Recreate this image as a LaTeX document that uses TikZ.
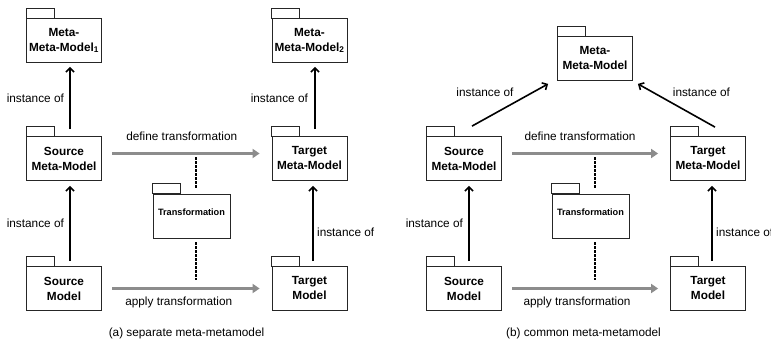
\documentclass[tikz,border=0pt]{standalone}
\usepackage{fontspec}
\setmainfont{Liberation Sans}
\usetikzlibrary{arrows.meta,calc}

\begin{document}
\begin{tikzpicture}[x=1pt,y=1pt,
                        package/.style={draw=black!85,line width=0.8pt,fill=white,align=center,inner sep=0pt,
                        minimum width=75pt,minimum height=44pt,font=\fontsize{11.8}{15}\selectfont\bfseries},
                        trafo/.style={draw=black!85,line width=0.8pt,fill=white,inner sep=0pt,minimum width=77pt,
                        text height=21.5pt,text depth=22.5pt,font=\fontsize{9.2}{11}\selectfont\bfseries},
                        tab/.style={draw=black!85,line width=0.8pt},
                        inst/.style={line width=1.6pt,-{Straight Barb[length=4pt,width=8pt]}},
                        trans/.style={line width=3pt,black!45,-{Triangle[length=7pt,width=9pt]},shorten <=10.5pt,shorten >=12pt},
                        link/.style={line width=1.6pt,dash pattern=on 2.5pt off 1.5pt},
                        lbl/.style={font=\fontsize{11.8}{14}\selectfont}
                        ]
                        \useasboundingbox (0,0) rectangle (771,345);

                        % (a) separate meta-metamodel
                        \node[package] (mmA)  at (64,304.5)    {Meta-\\Meta-Model\textsubscript{1}};
                        \node[package] (mmB)  at (309.5,304.5) {Meta-\\Meta-Model\textsubscript{2}};
                        \node[package] (smmA) at (64,186.5)    {Source\\Meta-Model};
                        \node[package] (tmmA) at (309.5,186.5) {Target\\Meta-Model};
                        \node[package] (smA)  at (64,56.5)     {Source\\Model};
                        \node[package] (tmA)  at (309.5,56.5)  {Target\\Model};
                        \node[trafo]   (trA)  at (191.5,129)   {Transformation};

                        % (b) common meta-metamodel
                        \node[package] (mmC)  at (595,286.5)   {Meta-\\Meta-Model};
                        \node[package] (smmB) at (464,186.5)   {Source\\Meta-Model};
                        \node[package] (tmmB) at (708,186.5)   {Target\\Meta-Model};
                        \node[package] (smB)  at (464,56.5)    {Source\\Model};
                        \node[package] (tmB)  at (708,56.5)    {Target\\Model};
                        \node[trafo]   (trB)  at (590.5,129)   {Transformation};

                        % package tabs
                        \foreach \n in {mmA,mmB,smmA,tmmA,smA,tmA,trA,mmC,smmB,tmmB,smB,tmB,trB} {
                            \draw[tab] (\n.north west) rectangle ++(28pt,10pt);
                        }

                        % instance of (a)
                        \draw[inst] ([xshift=6pt,yshift=7pt]smmA.north) -- ([xshift=6pt,yshift=-4pt]mmA.south)
                            node[lbl,midway,left=2pt] {instance of};
                        \draw[inst] ([xshift=5.5pt,yshift=7pt]tmmA.north) -- ([xshift=5.5pt,yshift=-4pt]mmB.south)
                            node[lbl,midway,left=3pt] {instance of};
                        \draw[inst] ([xshift=6pt,yshift=5pt]smA.north) -- ([xshift=6pt,yshift=-5pt]smmA.south)
                            node[lbl,midway,left=2pt] {instance of};
                        \draw[inst] ([xshift=3.5pt,yshift=5pt]tmA.north) -- ([xshift=3.5pt,yshift=-5pt]tmmA.south)
                            node[lbl,pos=0.38,right=0pt] {instance of};

                        % transformation (a)
                        \draw[trans] ([yshift=5pt]smmA.east) -- ([yshift=5pt]tmmA.west) coordinate[pos=0.5] (dA)
                            node[lbl,black,midway,above=8pt,xshift=-5pt] {define transformation};
                        \draw[trans] (smA.east) -- (tmA.west) coordinate[pos=0.5] (aA)
                            node[lbl,black,midway,below=4pt,xshift=-8pt] {apply transformation};
                        \draw[link] ($(trA.north |- dA)+(4.5pt,-4pt)$) -- ([xshift=4.5pt,yshift=6pt]trA.north);
                        \draw[link] ([xshift=4.5pt,yshift=-4pt]trA.south) -- ($(trA.south |- aA)+(4.5pt,8pt)$);

                        % instance of (b)
                        \draw[inst] ([xshift=8pt,yshift=10pt]smmB.north) -- ([xshift=-9pt,yshift=-3pt]mmC.south west)
                            node[lbl,pos=0.6,above left=0pt] {instance of};
                        \draw[inst] ([xshift=7pt,yshift=9pt]tmmB.north) -- ([xshift=5pt,yshift=-3pt]mmC.south east)
                            node[lbl,pos=0.6,above right=0pt] {instance of};
                        \draw[inst] ([xshift=5pt,yshift=5pt]smB.north) -- ([xshift=5pt,yshift=-5pt]smmB.south)
                            node[lbl,midway,left=2pt] {instance of};
                        \draw[inst] ([xshift=4pt,yshift=5pt]tmB.north) -- ([xshift=4pt,yshift=-5pt]tmmB.south)
                            node[lbl,pos=0.38,right=0pt] {instance of};

                        % transformation (b)
                        \draw[trans] ([yshift=5pt]smmB.east) -- ([yshift=5pt]tmmB.west) coordinate[pos=0.5] (dB)
                            node[lbl,black,midway,above=8pt,xshift=-6pt] {define transformation};
                        \draw[trans] (smB.east) -- (tmB.west) coordinate[pos=0.5] (aB)
                            node[lbl,black,midway,below=4pt,xshift=-9pt] {apply transformation};
                        \draw[link] ($(trB.north |- dB)+(4.5pt,-4pt)$) -- ([xshift=4.5pt,yshift=6pt]trB.north);
                        \draw[link] ([xshift=4.5pt,yshift=-4pt]trB.south) -- ($(trB.south |- aB)+(4.5pt,8pt)$);

                        % captions
                        \node[lbl] (capA) at (186.5,12) {(a) separate meta-metamodel};
                        \node[lbl] (capB) at (583.5,12) {(b) common meta-metamodel};
                    \end{tikzpicture}
\end{document}
